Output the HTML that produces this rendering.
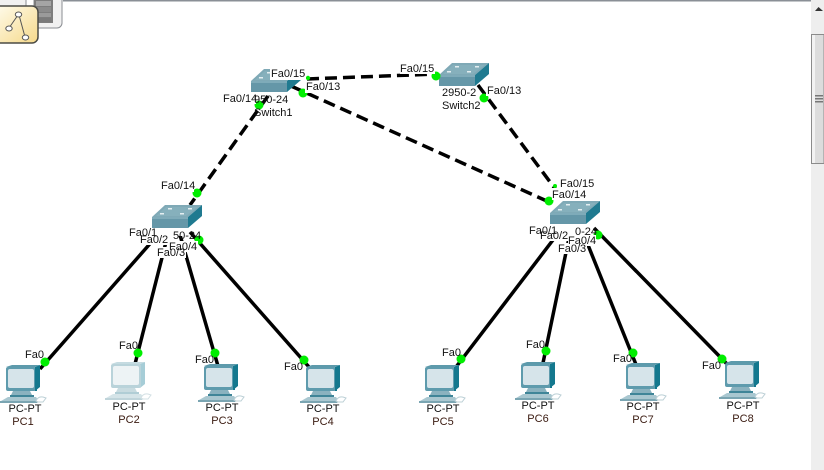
<!DOCTYPE html>
<html><head><meta charset="utf-8"><style>
html,body{margin:0;padding:0;background:#fff;width:824px;height:470px;overflow:hidden}
svg{display:block}
text{font-family:"Liberation Sans",sans-serif;font-size:11px;fill:#111}
.c{text-anchor:middle}
.n{fill:#3a1a10}
</style></head><body>
<svg width="824" height="470" viewBox="0 0 824 470" xmlns="http://www.w3.org/2000/svg">
<defs>
<g id="sw">
<polygon points="0,12 13,0 50,0 36,12" fill="#7fa9b6"/>
<polygon points="4,11 14,2 46,2 34,11" fill="#86b0bc"/>
<rect x="0" y="12" width="36" height="11" fill="#6597a8"/>
<rect x="0" y="12" width="36" height="2" fill="#7fabb9"/>
<polygon points="36,12 50,0 50,11 36,23" fill="#1f7a90"/>
<rect x="16" y="3" width="4" height="1.5" fill="#e4eef1"/><rect x="36" y="3" width="4" height="1.5" fill="#e4eef1"/>
<rect x="8" y="8" width="4" height="1.5" fill="#e4eef1"/><rect x="28" y="8" width="4" height="1.5" fill="#e4eef1"/>
</g>
<g id="pc">
<polygon points="29,1 34,-1 34,21 29,25" fill="#14788e"/>
<polygon points="0,1 29,1 34,-1 6,-1" fill="#5d9aab"/>
<rect x="0" y="1" width="30" height="24" rx="2" fill="#5e9bad"/>
<rect x="29" y="1" width="2" height="24" fill="#14788e"/>
<rect x="2" y="3" width="26" height="19" rx="2" fill="#d6e4ea"/>
<polygon points="7,25 24,25 26,29 5,29" fill="#8ab2bf"/>
<polygon points="4,29 28,29 28,31 4,31" fill="#3f8598"/>
<polygon points="2,31 30,31 33,35 -5,35" fill="#a9c7d0"/>
<polygon points="-6,35 33,35 31,37 -6,37" fill="#7aa5b2"/>
<path d="M30,35 Q32,30 37,31 L40,32 L37,36 L32,36Z" fill="#fff" stroke="#bcd0d6"/>
</g>
<g id="pcl">
<polygon points="29,1 34,-1 34,21 29,25" fill="#a6cdd7"/>
<polygon points="0,1 29,1 34,-1 6,-1" fill="#c5dbe1"/>
<rect x="0" y="1" width="30" height="24" rx="2" fill="#b9d3da"/>
<rect x="2" y="3" width="26" height="19" rx="2" fill="#edf3f5"/>
<polygon points="7,25 24,25 26,29 5,29" fill="#c8dbe0"/>
<polygon points="4,29 28,29 28,31 4,31" fill="#b0cdd5"/>
<polygon points="2,31 30,31 33,35 -5,35" fill="#d5e4e8"/>
<polygon points="-6,35 33,35 31,37 -6,37" fill="#bfd4da"/>
<path d="M30,35 Q32,30 37,31 L40,32 L37,36 L32,36Z" fill="#fff" stroke="#d3e0e4"/>
</g>
<linearGradient id="y" x1="0" y1="0" x2="1" y2="1"><stop offset="0" stop-color="#fffdf0"/><stop offset="1" stop-color="#f6d98a"/></linearGradient>
</defs>

<!-- top left toolbar -->
<rect x="-2" y="-10" width="64" height="38" rx="5" fill="#f1f1f1" stroke="#8a8d92"/>
<rect x="26" y="-2" width="8" height="8" fill="#fff" stroke="#8a8d92"/>
<rect x="34" y="0" width="19" height="23" fill="#7d7d7d"/>
<rect x="36" y="1" width="15" height="5" fill="#a5a5a5"/><rect x="36" y="7" width="15" height="5" fill="#8b8b8b"/><rect x="36" y="13" width="15" height="4" fill="#9a9a9a"/><rect x="36" y="18" width="15" height="4" fill="#7a7a7a"/>
<rect x="63" y="0" width="748" height="1.5" fill="#8a8f96"/>
<rect x="-8" y="6" width="46" height="37" rx="6" fill="url(#y)" stroke="#4b4b45" stroke-width="1.5"/>
<path d="M18,15 L9,28 M19,15 L25,37" stroke="#555" fill="none"/>
<ellipse cx="18.500" cy="14.500" rx="3.200" ry="2.500" fill="#fff" stroke="#555"/>
<ellipse cx="9" cy="28.500" rx="3.200" ry="2.500" fill="#fff" stroke="#555"/>
<ellipse cx="25.500" cy="37.500" rx="3.200" ry="2.500" fill="#fff" stroke="#555"/>

<!-- scrollbar -->
<rect x="811" y="0" width="13" height="470" fill="#eeeeee"/>
<polygon points="815,11 818.500,7 823,11" fill="#333"/>
<rect x="811.500" y="34.500" width="12.500" height="129" fill="#dcdcdc" stroke="#8b8b8b"/>
<rect x="812" y="35" width="3" height="128" fill="#f2f2f2"/>
<rect x="815" y="95" width="8" height="1.500" fill="#777"/><rect x="815" y="98" width="8" height="1.500" fill="#777"/><rect x="815" y="101" width="8" height="1.500" fill="#777"/>

<!-- links -->
<g stroke="#000" stroke-width="3.500" fill="none">
<g stroke-dasharray="12 6">
<line x1="307" y1="79" x2="437" y2="74"/>
<line x1="291" y1="86" x2="549" y2="202"/>
<line x1="268" y1="96" x2="190" y2="205"/>
<line x1="478" y1="85" x2="556" y2="190"/>
</g>
<line x1="155" y1="238" x2="40" y2="369"/>
<line x1="167" y1="238" x2="135" y2="364"/>
<line x1="180" y1="235" x2="218" y2="366"/>
<line x1="190" y1="232" x2="309" y2="367"/>
<line x1="556" y1="236" x2="456" y2="367"/>
<line x1="569" y1="238" x2="543" y2="363"/>
<line x1="584" y1="235" x2="637" y2="367"/>
<line x1="594" y1="228" x2="727" y2="364"/>
</g>

<!-- devices -->
<use href="#sw" x="251" y="69"/>
<use href="#sw" x="439" y="63"/>
<use href="#sw" x="152" y="205"/>
<use href="#sw" x="550" y="201"/>
<use href="#pc" x="6" y="366"/>
<use href="#pcl" x="111" y="363"/>
<use href="#pc" x="204" y="365"/>
<use href="#pc" x="306" y="366"/>
<use href="#pc" x="425" y="366"/>
<use href="#pc" x="521" y="363"/>
<use href="#pc" x="626" y="364"/>
<use href="#pc" x="725" y="362"/>

<!-- link lights -->
<g fill="#00ee00">
<circle cx="308" cy="78" r="2.200"/><circle cx="436" cy="76" r="4.500"/>
<circle cx="303" cy="93" r="4.500"/><circle cx="259" cy="105" r="4.500"/>
<circle cx="484" cy="98" r="4.500"/><circle cx="197" cy="193" r="4.500"/>
<circle cx="555" cy="186" r="2"/><circle cx="549" cy="201" r="4.500"/>
<circle cx="199" cy="240" r="4.500"/><circle cx="598" cy="235" r="4.500"/>
<circle cx="45" cy="362" r="4.500"/><circle cx="138" cy="353" r="4.500"/>
<circle cx="215" cy="353" r="4.500"/><circle cx="304" cy="360" r="4.500"/>
<circle cx="461" cy="359" r="4.500"/><circle cx="546" cy="351" r="4.500"/>
<circle cx="633" cy="353" r="4.500"/><circle cx="722" cy="359" r="4.500"/>
</g>

<!-- labels with white backing -->
<g fill="#fff">
<rect x="270" y="68" width="36" height="12"/>
<rect x="305" y="81" width="36" height="12"/>
<rect x="223" y="92" width="33" height="12"/>
<rect x="400" y="62" width="35" height="12"/>
<rect x="486" y="84" width="36" height="12"/>
<rect x="560" y="177" width="35" height="12"/>
<rect x="552" y="188" width="35" height="12"/>
<rect x="161" y="180" width="33" height="12"/>
<rect x="129" y="228" width="58" height="8"/>
<rect x="529" y="225" width="60" height="8"/>
<rect x="140" y="233" width="29" height="12"/>
<rect x="539" y="229" width="29" height="12"/>
<rect x="169" y="241" width="29" height="11"/>
<rect x="568" y="235" width="28" height="11"/>
<rect x="157" y="247" width="29" height="11"/>
<rect x="558" y="243" width="29" height="11"/>
</g>
<text x="271" y="77">Fa0/15</text>
<text x="306" y="90">Fa0/13</text>
<text x="400" y="72">Fa0/15</text>
<text x="487" y="94">Fa0/13</text>
<text x="223" y="102">Fa0/14</text>
<text x="254" y="103">950-24</text>
<text x="254" y="116">Switch1</text>
<text x="442" y="96">2950-2</text>
<text x="442" y="109">Switch2</text>
<text x="161" y="189">Fa0/14</text>
<text x="129" y="236">Fa0/1</text>
<text x="173" y="239">50-24</text>
<text x="140" y="243">Fa0/2</text>
<text x="157" y="256">Fa0/3</text>
<text x="169" y="250">Fa0/4</text>
<text x="560" y="187">Fa0/15</text>
<text x="552" y="198">Fa0/14</text>
<text x="529" y="234">Fa0/1</text>
<text x="575" y="235">0-24</text>
<text x="540" y="239">Fa0/2</text>
<text x="558" y="252">Fa0/3</text>
<text x="568" y="244">Fa0/4</text>
<text x="25" y="358">Fa0</text>
<text x="119" y="349">Fa0</text>
<text x="195" y="363">Fa0</text>
<text x="284" y="370">Fa0</text>
<text x="442" y="356">Fa0</text>
<text x="526" y="348">Fa0</text>
<text x="613" y="362">Fa0</text>
<text x="702" y="369">Fa0</text>

<text class="c" x="25" y="412">PC-PT</text><text class="c n" x="23" y="425">PC1</text>
<text class="c" x="129" y="410">PC-PT</text><text class="c n" x="129" y="423">PC2</text>
<text class="c" x="222" y="411">PC-PT</text><text class="c n" x="222" y="424">PC3</text>
<text class="c" x="323" y="412">PC-PT</text><text class="c n" x="323" y="425">PC4</text>
<text class="c" x="443" y="412">PC-PT</text><text class="c n" x="443" y="425">PC5</text>
<text class="c" x="538" y="409">PC-PT</text><text class="c n" x="538" y="422">PC6</text>
<text class="c" x="643" y="410">PC-PT</text><text class="c n" x="643" y="423">PC7</text>
<text class="c" x="743" y="409">PC-PT</text><text class="c n" x="743" y="422">PC8</text>
</svg>
</body></html>
